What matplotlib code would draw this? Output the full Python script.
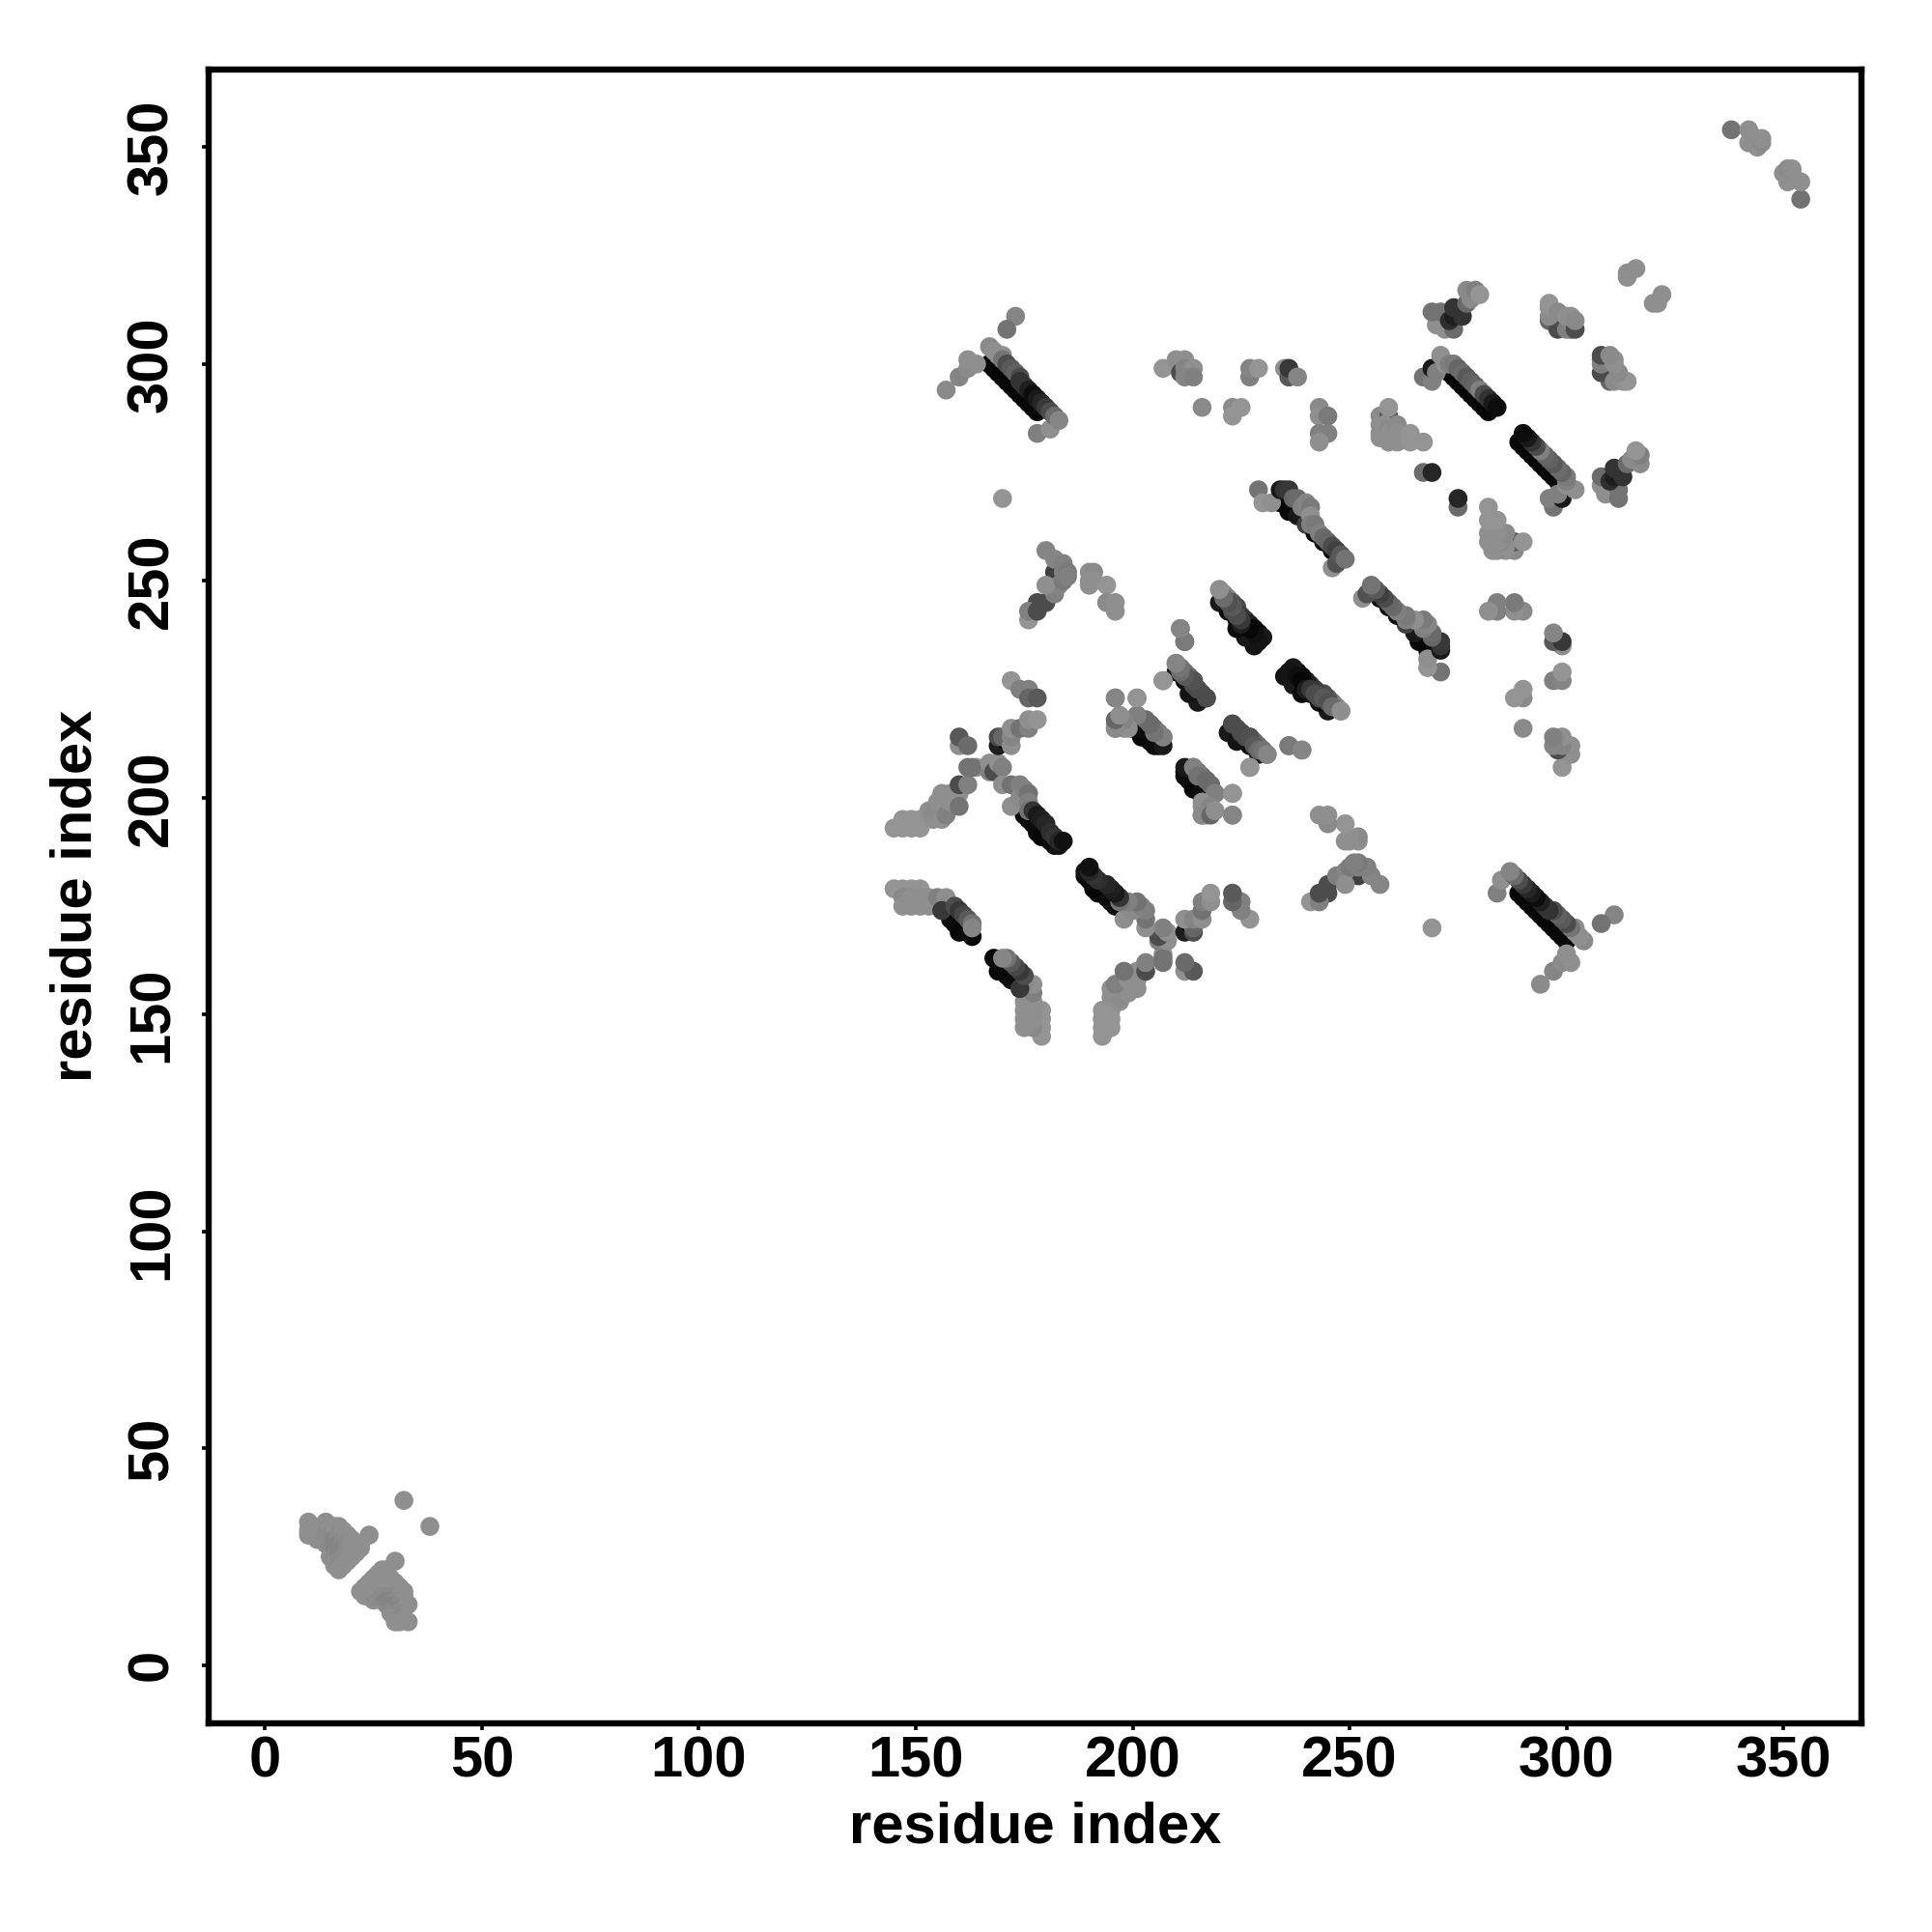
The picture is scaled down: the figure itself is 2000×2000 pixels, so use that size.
import numpy as np
import matplotlib
matplotlib.use('Agg')
import matplotlib.pyplot as plt

plt.rcParams['font.family'] = ['Liberation Sans', 'DejaVu Sans']

# contact map, symmetric: only i < j is listed, (residue i, residue j, grey level)
nterm = [(10, 33, .56), (10, 31, .56), (10, 30, .56), (11, 32, .56), (12, 31, .56), (12, 29, .56), (13, 32, .56),
         (14, 33, .56), (14, 30, .54), (14, 28, .56), (15, 32, .56), (15, 30, .54), (15, 27, .54), (15, 25, .56),
         (16, 32, .56), (16, 29, .52), (16, 27, .52), (16, 25, .54), (16, 23, .56), (17, 32, .56), (17, 30, .54),
         (17, 28, .52), (17, 26, .52), (17, 24, .54), (17, 22, .56), (18, 31, .56), (18, 29, .54), (18, 27, .52),
         (18, 25, .54), (18, 23, .56), (19, 30, .56), (19, 28, .54), (19, 26, .54), (19, 24, .56), (20, 29, .56),
         (20, 27, .56), (20, 25, .56), (21, 28, .56), (21, 26, .56), (22, 28, .56), (22, 27, .56), (24, 30, .56),
         (32, 38, .56)]

cterm = [(338, 354, .45), (342, 354, .56), (342, 351, .56), (344, 350, .56), (344, 352, .56), (345, 351, .54),
         (345, 352, .56), (314, 320, .56), (314, 321, .56), (316, 322, .56)]

strand_145 = [(158, 172, .08), (159, 171, .05), (160, 169, .03), (161, 170, .03), (163, 168, .03), (162, 169, .05),
              (145, 179, .58), (147, 179, .58), (149, 179, .58), (151, 179, .58), (147, 177, .54), (147, 175, .56),
              (149, 177, .56), (149, 175, .56), (151, 177, .56), (151, 175, .56), (153, 175, .56), (153, 177, .56),
              (155, 177, .5), (157, 177, .56), (157, 175, .54), (156, 174, .22), (159, 175, .3), (160, 174, .22),
              (161, 173, .28), (162, 172, .35), (163, 171, .45), (163, 170, .52)]

branch_145 = [(145, 193, .58), (147, 193, .58), (149, 193, .58), (151, 193, .58), (147, 195, .58), (149, 195, .58),
              (151, 195, .58), (153, 197, .56), (154, 195, .56), (154, 197, .54), (155, 199, .56), (156, 199, .56),
              (156, 195, .56), (157, 196, .5), (156, 201, .56), (158, 199, .56), (158, 201, .56), (160, 201, .56),
              (160, 198, .45), (160, 203, .3), (162, 203, .5), (162, 207, .45), (164, 207, .58), (163, 207, .45),
              (167, 206, .5), (167, 208, .56), (168, 206, .3), (169, 208, .56), (170, 207, .5),
              (169, 212, .12), (169, 214, .3), (171, 213, .03), (170, 214, .4), (172, 212, .56), (172, 214, .52),
              (172, 216, .56), (174, 216, .45), (176, 216, .5), (176, 218, .56), (178, 218, .58),
              (160, 212, .56), (160, 214, .35), (162, 212, .42),
              (172, 227, .58), (174, 225, .5), (176, 225, .5), (176, 223, .4), (178, 223, .35),
              (173, 311, .52), (171, 308, .45)]

stripe_172 = [(175, 196, .05), (176, 195, .05), (177, 194, .05), (178, 192, .05), (179, 191, .03), (181, 190, .05),
              (182, 189, .05), (183, 189, .08),
              (170, 203, .56), (172, 203, .45), (174, 203, .5), (172, 198, .56), (174, 200, .54), (175, 202, .5),
              (176, 201, .45), (176, 199, .5), (176, 197, .45), (177, 197, .2), (178, 196, .1), (179, 195, .12),
              (180, 194, .15), (181, 192, .18), (182, 191, .2), (183, 190, .15), (184, 190, .07)]

strand_176 = [(178, 245, .3), (180, 245, .3), (182, 252, .25), (176, 241, .58), (176, 243, .5), (178, 243, .3),
              (182, 247, .5), (183, 249, .52), (180, 249, .56), (184, 250, .48), (180, 257, .52), (182, 255, .52),
              (184, 254, .5), (184, 252, .5), (185, 252, .48), (185, 251, .5),
              (190, 252, .56), (191, 252, .54), (190, 250, .56), (190, 249, .56), (191, 250, .56), (194, 249, .58),
              (194, 245, .54), (196, 245, .56), (196, 243, .56)]

stripe_167 = [(167, 300, .03), (168, 299, .03), (169, 298, .03), (170, 297, .03), (171, 296, .03), (172, 295, .03),
              (173, 294, .03), (174, 293, .03), (175, 292, .03), (176, 291, .03), (177, 290, .03), (178, 289, .03),
              (178, 284, .5), (181, 285, .56),
              (167, 304, .54), (168, 303, .56), (169, 302, .56), (170, 302, .56), (170, 301, .45), (171, 300, .3),
              (172, 299, .35), (173, 298, .38), (174, 297, .3), (175, 295, .2), (174, 296, .2), (176, 294, .12),
              (177, 293, .05), (178, 292, .1), (179, 291, .15), (180, 290, .22), (181, 289, .3), (182, 288, .42),
              (183, 287, .52)]

side_157 = [(157, 294, .54), (160, 297, .52), (162, 299, .54), (162, 301, .56), (164, 300, .56), (170, 269, .58),
            (207, 299, .58), (210, 301, .56), (212, 301, .56), (211, 298, .3), (212, 299, .52), (214, 299, .56),
            (212, 297, .52), (214, 297, .5), (216, 290, .54), (223, 290, .54), (223, 288, .58), (225, 290, .58),
            (227, 297, .5), (227, 299, .52), (229, 299, .58), (235, 299, .56), (236, 297, .35), (236, 299, .22),
            (238, 297, .52), (243, 290, .54), (243, 288, .56), (245, 288, .48), (243, 284, .5), (245, 284, .5),
            (243, 282, .56)]

cluster_196 = [(200, 216, .05), (202, 214, .03), (204, 213, .03), (206, 212, .05),
               (196, 216, .5), (196, 217, .54), (198, 216, .56), (198, 217, .56), (199, 217, .56), (201, 219, .48),
               (202, 218, .4), (203, 217, .4), (204, 217, .4), (205, 216, .45), (206, 215, .48),
               (207, 214, .52), (196, 223, .54), (201, 223, .58)]

stripe_207 = [(210, 229, .1), (212, 227, .05), (214, 224, .03), (216, 223, .03), (207, 227, .56),
              (210, 231, .5), (211, 230, .42), (212, 229, .45), (213, 228, .42), (214, 227, .4), (215, 225, .32),
              (216, 224, .3), (217, 223, .3), (211, 239, .5), (212, 236, .48)]

stripe_196b = [(212, 205, .05), (212, 207, .1), (215, 203, .03), (216, 202, .05), (214, 207, .5), (215, 205, .45),
               (217, 204, .42), (218, 203, .42), (219, 201, .5), (216, 199, .56), (218, 198, .52), (216, 196, .54),
               (218, 196, .4), (219, 197, .56), (223, 196, .52), (223, 201, .58)]

stripe_222 = [(222, 215, .1), (224, 213, .08), (223, 217, .3), (225, 215, .3), (226, 214, .3), (227, 214, .32),
              (228, 212, .35), (229, 211, .42), (230, 211, .45), (231, 210, .52), (227, 207, .58), (236, 212, .48),
              (239, 211, .52)]

stripe_219 = [(220, 245, .1), (222, 243, .05), (224, 241, .05), (226, 238, .03), (228, 236, .05),
              (220, 248, .56), (221, 247, .52), (222, 246, .5), (223, 245, .35), (224, 244, .3), (225, 242, .25),
              (226, 241, .2), (227, 240, .12), (228, 239, .03), (229, 238, .05), (230, 237, .1)]

stripe_236 = [(235, 228, .08), (237, 226, .1), (239, 224, .05), (236, 229, .08), (238, 228, .06), (239, 227, .03),
              (240, 225, .12), (241, 225, .22), (242, 224, .3), (243, 223, .3), (244, 223, .35), (245, 222, .32),
              (246, 221, .42), (248, 220, .56)]

stripe_229 = [(234, 268, .03), (236, 266, .03), (238, 265, .1), (240, 263, .25), (242, 261, .05), (244, 259, .05),
              (246, 257, .05), (248, 255, .08),
              (229, 271, .45), (230, 268, .58), (232, 268, .56), (234, 271, .1), (235, 271, .2), (236, 271, .22),
              (237, 269, .4), (238, 269, .42), (239, 267, .5), (240, 268, .52), (241, 267, .48), (241, 265, .56),
              (241, 263, .5), (242, 263, .48), (243, 261, .5), (244, 260, .42), (245, 259, .4), (246, 258, .3),
              (246, 253, .56), (247, 257, .25), (247, 254, .32), (248, 256, .35), (249, 255, .45)]

cluster_257 = [(257, 288, .54), (257, 286, .56), (257, 284, .54), (257, 283, .56), (259, 288, .35), (259, 290, .58),
               (258, 286, .56), (259, 285, .54), (259, 284, .56), (259, 282, .56), (261, 286, .54), (261, 284, .56),
               (261, 282, .56), (264, 284, .58), (264, 282, .58), (267, 282, .58), (267, 275, .42), (269, 275, .15)]

stripe_267 = [(273, 298, .03), (274, 297, .03), (275, 296, .03), (276, 295, .03), (277, 294, .03), (278, 293, .03),
              (279, 292, .03), (280, 291, .03), (281, 290, .03), (282, 289, .03),
              (267, 297, .45), (269, 296, .5), (269, 299, .1), (270, 298, .5), (271, 302, .56), (272, 300, .56),
              (273, 300, .5), (274, 300, .48), (275, 299, .4), (276, 298, .42), (277, 297, .35), (278, 296, .38),
              (279, 295, .4), (280, 294, .5), (281, 293, .3), (282, 292, .2), (283, 291, .1), (284, 290, .05)]

cluster_269 = [(270, 309, .56), (272, 308, .56), (274, 308, .42), (269, 312, .45), (271, 312, .45), (273, 310, .18),
               (274, 311, .12), (276, 311, .2), (274, 313, .2), (277, 314, .42), (278, 315, .54), (277, 317, .54),
               (279, 317, .5), (280, 316, .58)]

cluster_296 = [(296, 310, .4), (298, 308, .3), (301, 308, .35), (300, 308, .5), (302, 308, .3), (296, 311, .54),
               (296, 313, .56), (296, 314, .58), (298, 312, .54), (300, 311, .56), (301, 311, .56), (302, 310, .54)]

clusters = [nterm, cterm, strand_145, branch_145, stripe_172, strand_176, stripe_167, side_157, cluster_196,
            stripe_207, stripe_196b, stripe_222, stripe_219, stripe_236, stripe_229, cluster_257, stripe_267,
            cluster_269, cluster_296]

ticks = [0, 50, 100, 150, 200, 250, 300, 350]
grey_cmap = plt.get_cmap('gray')

fig = plt.figure(figsize=(20, 20), dpi=100)
ax = fig.add_axes([216 / 2000, 1 - 1784 / 2000, (1927 - 216) / 2000, (1784 - 71.5) / 2000])

for cluster in clusters:
    data = np.array(cluster)
    ax.scatter(data[:, 0], data[:, 1], c=data[:, 2], cmap=grey_cmap, vmin=0, vmax=1, s=198, linewidths=0, zorder=2)
    ax.scatter(data[:, 1], data[:, 0], c=data[:, 2], cmap=grey_cmap, vmin=0, vmax=1, s=198, linewidths=0, zorder=2)

ax.set_xlim(-13, 368)
ax.set_ylim(-13.4, 368)
ax.set_xticks(ticks)
ax.set_yticks(ticks)
ax.set_xticklabels(ticks, fontsize=43, fontweight='bold')
ax.set_yticklabels(ticks, fontsize=43, fontweight='bold', rotation=90, va='center')
ax.tick_params(axis='x', length=5, width=2.6, pad=4)
ax.tick_params(axis='y', length=5, width=2.6, pad=17)
for spine in ax.spines.values():
    spine.set_linewidth(4.6)

ax.set_xlabel('residue index', fontsize=43, fontweight='bold')
ax.set_ylabel('residue index', fontsize=43, fontweight='bold')
ax.xaxis.set_label_coords((1072 - 216) / 1711, (1784 - 1892) / 1712.5)
ax.yaxis.set_label_coords((79 - 216) / 1711, (1784 - 927) / 1712.5)
ax.xaxis.label.set_verticalalignment('center')
ax.yaxis.label.set_verticalalignment('center')

fig.savefig('out.png', dpi=100)
